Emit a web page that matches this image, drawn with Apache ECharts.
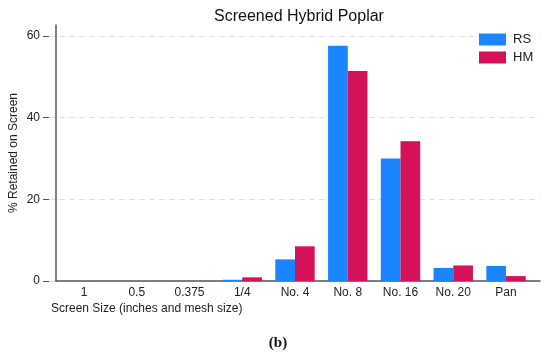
<!DOCTYPE html>
<html>
<head>
<meta charset="utf-8">
<script src="https://cdn.jsdelivr.net/npm/echarts@6/dist/echarts.min.js"></script>
<style>html,body{margin:0;padding:0;background:#fff;}#c{width:550px;height:355px;}</style>
</head>
<body>
<div id="c"></div>
<script>
const categories = ['1', '0.5', '0.375', '1/4', 'No. 4', 'No. 8', 'No. 16', 'No. 20', 'Pan'];
const rsValues = [0, 0, 0, 0.3, 5.3, 57.6, 30.0, 3.2, 3.7];
const hmValues = [0, 0, 0, 0.9, 8.5, 51.4, 34.2, 3.8, 1.2];
const seriesNames = ['RS', 'HM'];
const yMin = 0, yMax = 60, yInterval = 20;

const FONT = 'Liberation Sans, Arial, sans-serif';
const TXT = '#222';
const chart = echarts.init(document.getElementById('c'), null, {renderer: 'canvas'});
chart.setOption({
  animation: false,
  backgroundColor: '#fff',
  title: [
    {text: 'Screened Hybrid Poplar', left: 294, top: 4, textAlign: 'center',
     textStyle: {fontFamily: FONT, fontSize: 16, fontWeight: 'normal', color: '#111'}},
    {text: 'Screen Size (inches and mesh size)', left: 46, top: 298,
     textStyle: {fontFamily: FONT, fontSize: 12, fontWeight: 'normal', color: TXT}},
    {text: '{a|(}{b|b}{a|)}', left: 273, top: 331, textAlign: 'center',
     textStyle: {rich: {
       a: {fontFamily: 'Liberation Serif, serif', fontSize: 15, color: '#111'},
       b: {fontFamily: 'Liberation Serif, serif', fontSize: 15, fontWeight: 'bold', color: '#111'}
     }}}
  ],
  legend: {
    data: seriesNames, orient: 'vertical', left: 474, top: 28,
    itemWidth: 27, itemHeight: 12, itemGap: 5, icon: 'rect',
    textStyle: {fontFamily: FONT, fontSize: 13, color: TXT, padding: [0, 0, 0, 2]}
  },
  grid: [
    {left: 49, right: 10, top: 25, bottom: 74},
    {left: 49, right: 10, top: 36, bottom: 74},
    {left: 57.6, right: 17.6, top: 36, bottom: 74}
  ],
  xAxis: [
    {gridIndex: 0, type: 'value', min: 0, max: 1,
     axisLine: {show: true, lineStyle: {color: '#555', width: 1.5}},
     axisTick: {show: false}, axisLabel: {show: false}, splitLine: {show: false}},
    {gridIndex: 1, type: 'value', min: 0, max: 1, show: false},
    {gridIndex: 2, type: 'category', data: categories,
     axisLine: {show: false}, axisTick: {show: false},
     axisLabel: {margin: 6, fontFamily: FONT, fontSize: 12, color: TXT}}
  ],
  yAxis: [
    {gridIndex: 0, type: 'value', min: 0, max: 62.7,
     name: '% Retained on Screen', nameLocation: 'middle', nameGap: 36,
     nameTextStyle: {fontFamily: FONT, fontSize: 12, color: TXT},
     axisLine: {show: true, lineStyle: {color: '#555', width: 1.5}},
     axisTick: {show: false}, axisLabel: {show: false}, splitLine: {show: false}},
    {gridIndex: 1, type: 'value', min: yMin, max: yMax, interval: yInterval,
     axisLine: {show: false},
     axisTick: {show: true, length: 6, lineStyle: {color: '#555'}},
     axisLabel: {margin: 9, fontFamily: FONT, fontSize: 12, color: TXT},
     splitLine: {show: true, lineStyle: {color: '#e2e2e2', type: [6, 4], width: 1}}},
    {gridIndex: 2, type: 'value', min: yMin, max: yMax, show: false}
  ],
  series: [
    {name: seriesNames[0], type: 'bar', xAxisIndex: 2, yAxisIndex: 2, data: rsValues,
     barWidth: 19.7, barGap: '0%', itemStyle: {color: '#1a85ff'}},
    {name: seriesNames[1], type: 'bar', xAxisIndex: 2, yAxisIndex: 2, data: hmValues,
     barWidth: 19.7, barGap: '0%', itemStyle: {color: '#d41159'}}
  ]
});
</script>
</body>
</html>
